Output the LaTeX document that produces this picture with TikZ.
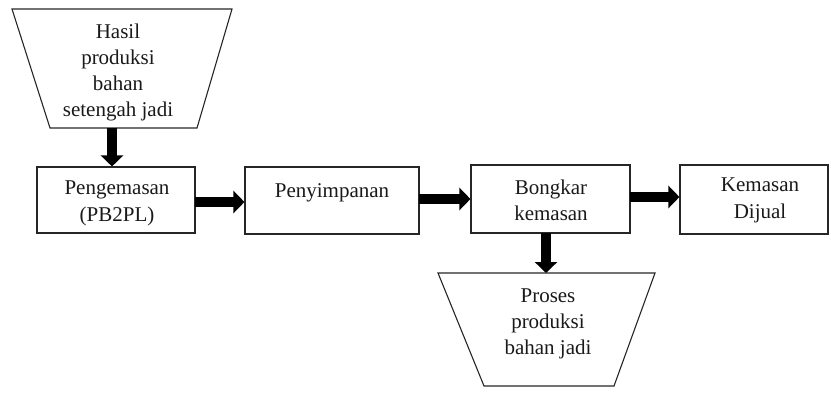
\documentclass[tikz,border=0pt]{standalone}
\usepackage{fontspec}
\newfontfamily\tnr{LiberationSerif}[Extension=.ttf,UprightFont=*-Regular]
\usetikzlibrary{arrows.meta}
\begin{document}
\begin{tikzpicture}[x=1pt,y=-1pt,
  box/.style={draw=black!85,line width=1.1pt,inner sep=0pt},
  outline/.style={draw=black!85,line width=1.1pt,line join=miter},
  txt/.style={align=center,inner sep=0pt,text=black!90,
    font=\tnr\fontsize{21}{26.3}\selectfont},
  blk/.style={line width=10pt,-{Triangle[width=22pt,length=11pt]}}]
\useasboundingbox (0,0) rectangle (831,394);
% top trapezoid
\draw[outline] (12,9) -- (232,9) -- (197,128) -- (50,128) -- cycle;
\node[txt] (t1) at (118,72.5) {Hasil\\produksi\\bahan\\setengah jadi};
\coordinate (t1b) at (112,128);
% boxes
\node[box,minimum width=158pt,minimum height=66pt] (b1) at (116,200) {};
\node[box,minimum width=174pt,minimum height=67pt] (b2) at (332,200.5) {};
\node[box,minimum width=159pt,minimum height=68pt] (b3) at (550.5,199) {};
\node[box,minimum width=148pt,minimum height=69pt] (b4) at (754,199.5) {};
\node[txt] (l1) at (117,203.5) {Pengemasan\\(PB2PL)};
\node[txt] (l2) at (332,193) {Penyimpanan};
\node[txt] (l3) at (551,200.5) {Bongkar\\kemasan};
\node[txt] (l4) at (760,200.5) {Kemasan\\Dijual};
% bottom trapezoid
\draw[outline] (438,273) -- (655,273) -- (614,386) -- (484,386) -- cycle;
\node[txt] (t2) at (548,324) {Proses\\produksi\\bahan jadi};
\coordinate (t2t) at (546,273);
\coordinate (b3s) at (546,233);
% arrows
\draw[blk] (t1b) -- (t1b |- b1.north);
\coordinate (a1) at (195,202);
\draw[blk] (a1) -- (a1 -| b2.west);
\coordinate (a2) at (419,199);
\draw[blk] (a2) -- (a2 -| b3.west);
\coordinate (a3) at (630,197);
\draw[blk] (a3) -- (a3 -| b4.west);
\draw[blk] (b3s) -- (t2t);
\end{tikzpicture}
\end{document}
